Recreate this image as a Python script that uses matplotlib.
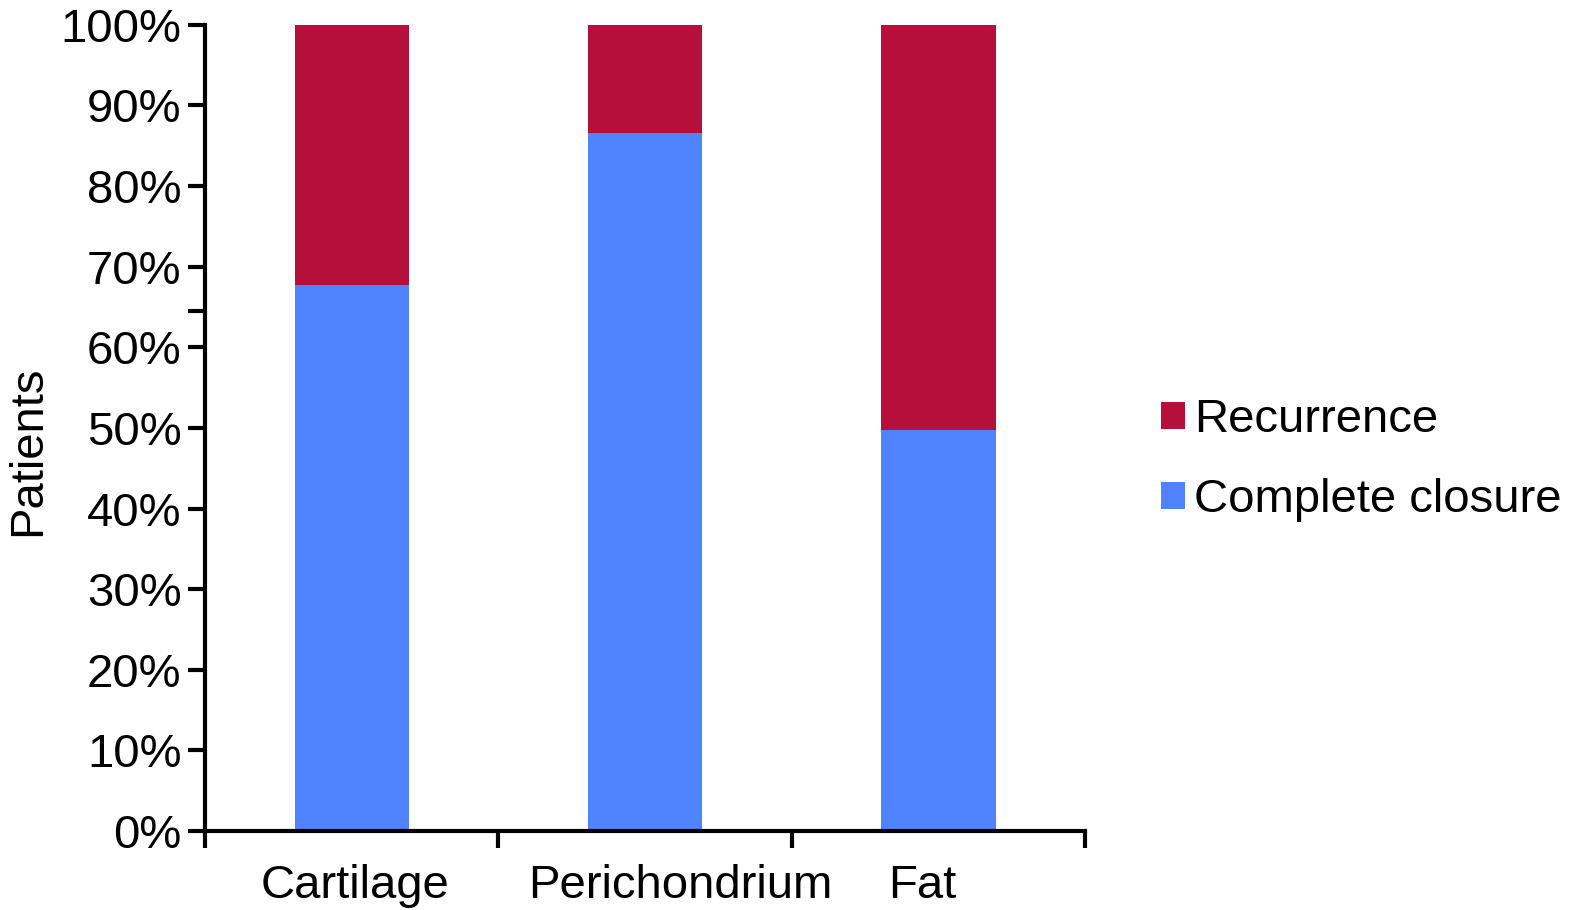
import matplotlib.pyplot as plt
import numpy as np

categories = ['Cartilage', 'Perichondrium', 'Fat']
closure = [67.7, 86.6, 49.7]
recurrence = [100 - v for v in closure]
y_ticks = [0, 10, 20, 30, 40, 50, 60, 70, 80, 90, 100]

plt.rcParams['font.family'] = ['Liberation Sans', 'DejaVu Sans']

fig = plt.figure(figsize=(15.69, 9.10), dpi=100)
ax = fig.add_axes([0.1307, 0.0868, 0.5608, 0.8860])

x = np.arange(len(categories))
blue = '#5084fe'
red = '#b50f3c'
ax.bar(x, closure, width=0.39, color=blue, label='Complete closure')
ax.bar(x, recurrence, width=0.39, bottom=closure, color=red, label='Recurrence')

ax.set_xlim(-0.5, 2.5)
ax.set_ylim(0, 100)
ax.set_yticks(y_ticks)
ax.set_yticklabels([str(t) + '%' for t in y_ticks])
ax.set_yticks([64.5], minor=True)

# category boundaries get tick marks, names sit between them
ax.set_xticks([-0.5, 0.5, 1.5, 2.5])
ax.set_xticklabels([])
ax.set_xticks([0.01, 1.12, 1.945], minor=True)
ax.set_xticklabels(categories, minor=True)
ax.tick_params(axis='x', which='minor', length=0, pad=24, labelsize=34)
ax.tick_params(axis='x', which='major', direction='out', length=12, width=3)
ax.tick_params(axis='y', which='both', direction='out', length=12, width=3, labelsize=34, pad=5)

for s in ['top', 'right']:
    ax.spines[s].set_visible(False)
for s in ['left', 'bottom']:
    ax.spines[s].set_linewidth(3)

ax.set_ylabel('Patients', fontsize=34)
ax.yaxis.set_label_coords(-0.176, 0.472)

handles, labels = ax.get_legend_handles_labels()
ax.legend(handles[::-1], labels[::-1], loc='center left', bbox_to_anchor=(1.06, 0.46),
          frameon=False, fontsize=34, handlelength=0.5, handleheight=0.5,
          handletextpad=0.2, labelspacing=0.75, borderpad=0)

fig.savefig('out.png', dpi=100)
